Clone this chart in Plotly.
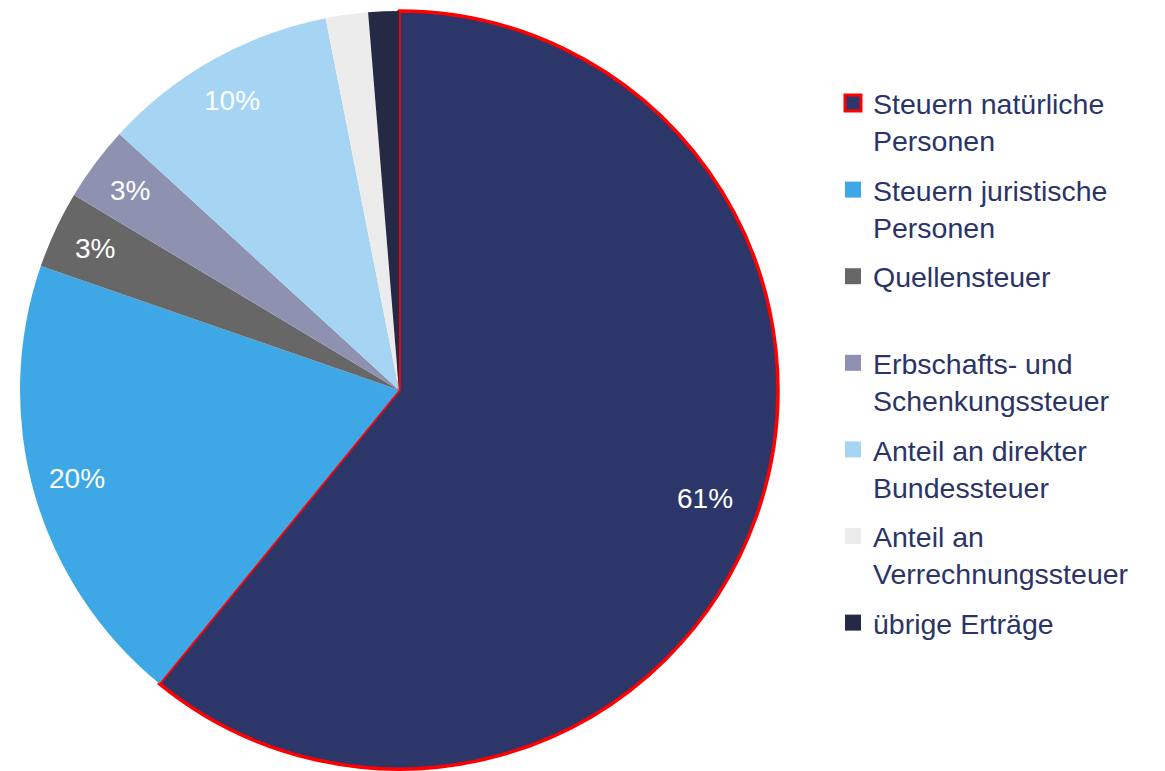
import math
import plotly.graph_objects as go

# Ertragsanteile (in %)
labels = [
    "Steuern natürliche<br>Personen",
    "Steuern juristische<br>Personen",
    "Quellensteuer<br> ",
    "Erbschafts- und<br>Schenkungssteuer",
    "Anteil an direkter<br>Bundessteuer",
    "Anteil an<br>Verrechnungssteuer",
    "übrige Erträge",
]
values = [60.9, 19.4, 3.3, 3.2, 10.1, 1.8, 1.3]
slice_text = ["61%", "20%", "3%", "3%", "10%", "", ""]
colors = ["#2d3668", "#3ea8e7", "#676767", "#8e92b0", "#a6d5f4", "#ececec", "#242a45"]
line_colors = ["#ff0000"] + ["rgba(0,0,0,0)"] * 6
line_widths = [3.5, 0, 0, 0, 0, 0, 0]

W, H = 1165, 771
CX, CY, R = 399, 390, 379     # pie centre / radius in pixels
OFF = 8                        # plotly draws the pie a few px lower-right
LABEL_R = 0.87                 # labels sit near the rim like in the original
LAB_DX, LAB_DY = -13, -10      # small nudge, the original labels sit a bit up-left

fig = go.Figure()
fig.add_trace(go.Pie(
    labels=labels,
    values=values,
    textinfo="none",
    sort=False,
    direction="clockwise",
    rotation=0,
    marker=dict(colors=colors, line=dict(color=line_colors, width=line_widths)),
    domain=dict(x=[(CX - R - OFF) / W, (CX + R - OFF) / W],
                y=[1 - (CY + R - OFF) / H, 1 - (CY - R - OFF) / H]),
    showlegend=False,
    hoverinfo="label+percent",
))

# percentage labels on the slice bisectors
total = sum(values)
cum = 0
for v, t in zip(values, slice_text):
    mid = (cum + v / 2) / total * 2 * math.pi
    cum += v
    if not t:
        continue
    px = CX + LABEL_R * R * math.sin(mid) + LAB_DX
    py = CY - LABEL_R * R * math.cos(mid) + LAB_DY
    fig.add_annotation(x=px / W, y=1 - py / H, xref="paper", yref="paper",
                       xanchor="center", yanchor="middle",
                       text=t, showarrow=False,
                       font=dict(family="Liberation Sans, Arial", size=28, color="white"))

# legend entries (separate groups so the spacing between entries can be set)
for i, (lab, col) in enumerate(zip(labels, colors)):
    fig.add_trace(go.Scatter(
        x=[None], y=[None], mode="markers", name=lab, legendgroup=f"g{i}",
        marker=dict(symbol="square", size=16, color=col,
                    line=dict(color=line_colors[i] if i == 0 else col, width=3 if i == 0 else 0)),
        showlegend=True, hoverinfo="skip",
    ))

fig.update_layout(
    width=W, height=H,
    margin=dict(l=0, r=0, t=0, b=0),
    paper_bgcolor="white",
    plot_bgcolor="white",
    xaxis=dict(visible=False),
    yaxis=dict(visible=False),
    showlegend=True,
    legend=dict(
        x=825 / W, y=1 - 70 / H, xanchor="left", yanchor="top",
        valign="top",
        traceorder="grouped",
        tracegroupgap=9.5,
        font=dict(family="Liberation Sans, Arial", size=28.5, color="#2b3466"),
        itemclick=False, itemdoubleclick=False,
    ),
    font=dict(family="Liberation Sans, Arial"),
)

fig.write_html("out.html")
